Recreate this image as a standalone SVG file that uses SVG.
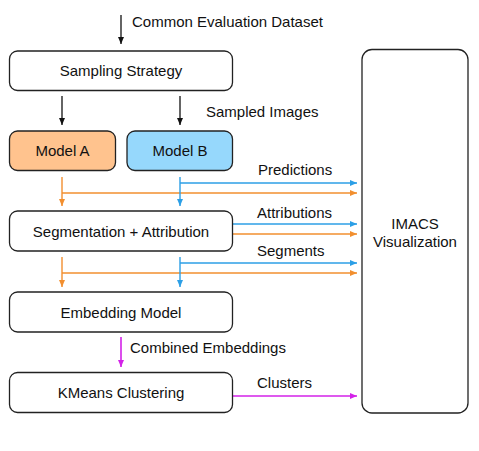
<svg xmlns="http://www.w3.org/2000/svg" width="479" height="451" viewBox="0 0 479 451">
<defs>
<style>
.box{fill:#fff;stroke:#222;stroke-width:1.3}
.t{font-family:"Liberation Sans",Arial,sans-serif;font-size:15px;fill:#111}
.c{text-anchor:middle}
.k{stroke:#111;stroke-width:1.3;fill:none}
.o{stroke:#F28F2F;stroke-width:1.4;fill:none}
.b{stroke:#2C9FE6;stroke-width:1.4;fill:none}
.m{stroke:#D322E8;stroke-width:1.6;fill:none}
</style>
<marker id="ak" markerWidth="8" markerHeight="8" refX="7" refY="4" orient="auto" markerUnits="userSpaceOnUse"><path d="M0,1 L7,4 L0,7 Z" fill="#111"/></marker>
<marker id="ao" markerWidth="8" markerHeight="8" refX="7" refY="4" orient="auto" markerUnits="userSpaceOnUse"><path d="M0,1 L7,4 L0,7 Z" fill="#F28F2F"/></marker>
<marker id="ab" markerWidth="8" markerHeight="8" refX="7" refY="4" orient="auto" markerUnits="userSpaceOnUse"><path d="M0,1 L7,4 L0,7 Z" fill="#2C9FE6"/></marker>
<marker id="am" markerWidth="8" markerHeight="8" refX="7" refY="4" orient="auto" markerUnits="userSpaceOnUse"><path d="M0,1 L7,4 L0,7 Z" fill="#D322E8"/></marker>
</defs>
<rect width="479" height="451" fill="#fff"/>
<g id="connectors">
<line class="k" x1="121" y1="15" x2="121" y2="44" marker-end="url(#ak)"/>
<text class="t" x="132" y="27">Common Evaluation Dataset</text>
<line class="k" x1="62" y1="96" x2="62" y2="125" marker-end="url(#ak)"/>
<line class="k" x1="180" y1="96" x2="180" y2="125" marker-end="url(#ak)"/>
<text class="t" x="206" y="117">Sampled Images</text>
<line class="o" x1="62" y1="177" x2="62" y2="206" marker-end="url(#ao)"/>
<line class="o" x1="62" y1="193" x2="357" y2="193" marker-end="url(#ao)"/>
<line class="b" x1="180" y1="177" x2="180" y2="206" marker-end="url(#ab)"/>
<line class="b" x1="180" y1="183" x2="357" y2="183" marker-end="url(#ab)"/>
<text class="t" x="258" y="175">Predictions</text>
<line class="b" x1="232" y1="224" x2="357" y2="224" marker-end="url(#ab)"/>
<line class="o" x1="232" y1="234" x2="357" y2="234" marker-end="url(#ao)"/>
<text class="t" x="257" y="218">Attributions</text>
<line class="o" x1="62" y1="257" x2="62" y2="287" marker-end="url(#ao)"/>
<line class="o" x1="62" y1="273" x2="357" y2="273" marker-end="url(#ao)"/>
<line class="b" x1="180" y1="257" x2="180" y2="287" marker-end="url(#ab)"/>
<line class="b" x1="180" y1="263" x2="357" y2="263" marker-end="url(#ab)"/>
<text class="t" x="257" y="256">Segments</text>
<line class="m" x1="121" y1="337" x2="121" y2="367" marker-end="url(#am)"/>
<text class="t" x="130" y="353">Combined Embeddings</text>
<line class="m" x1="232" y1="396" x2="357" y2="396" marker-end="url(#am)"/>
<text class="t" x="257" y="388">Clusters</text>
</g>
<g id="sampling"><rect class="box" x="9.5" y="51" width="223" height="39.5" rx="8"/><text class="t c" x="121" y="76">Sampling Strategy</text></g>
<g id="modelA"><rect class="box" x="9.5" y="131" width="106" height="39.5" rx="8" style="fill:#FFC38E"/><text class="t c" x="62.5" y="156">Model A</text></g>
<g id="modelB"><rect class="box" x="127" y="131" width="105.5" height="39.5" rx="8" style="fill:#96D8FC"/><text class="t c" x="180" y="156">Model B</text></g>
<g id="segmentation"><rect class="box" x="9.5" y="211" width="223" height="40" rx="8"/><text class="t c" x="121" y="237">Segmentation + Attribution</text></g>
<g id="embedding"><rect class="box" x="9.5" y="292" width="223" height="40" rx="8"/><text class="t c" x="121" y="318">Embedding Model</text></g>
<g id="kmeans"><rect class="box" x="9.5" y="372.5" width="223" height="40" rx="8"/><text class="t c" x="121" y="398">KMeans Clustering</text></g>
<g id="imacs"><rect class="box" x="362" y="49.5" width="106" height="363.5" rx="10"/><text class="t c" x="415" y="229">IMACS</text><text class="t c" x="415" y="247">Visualization</text></g>
</svg>
